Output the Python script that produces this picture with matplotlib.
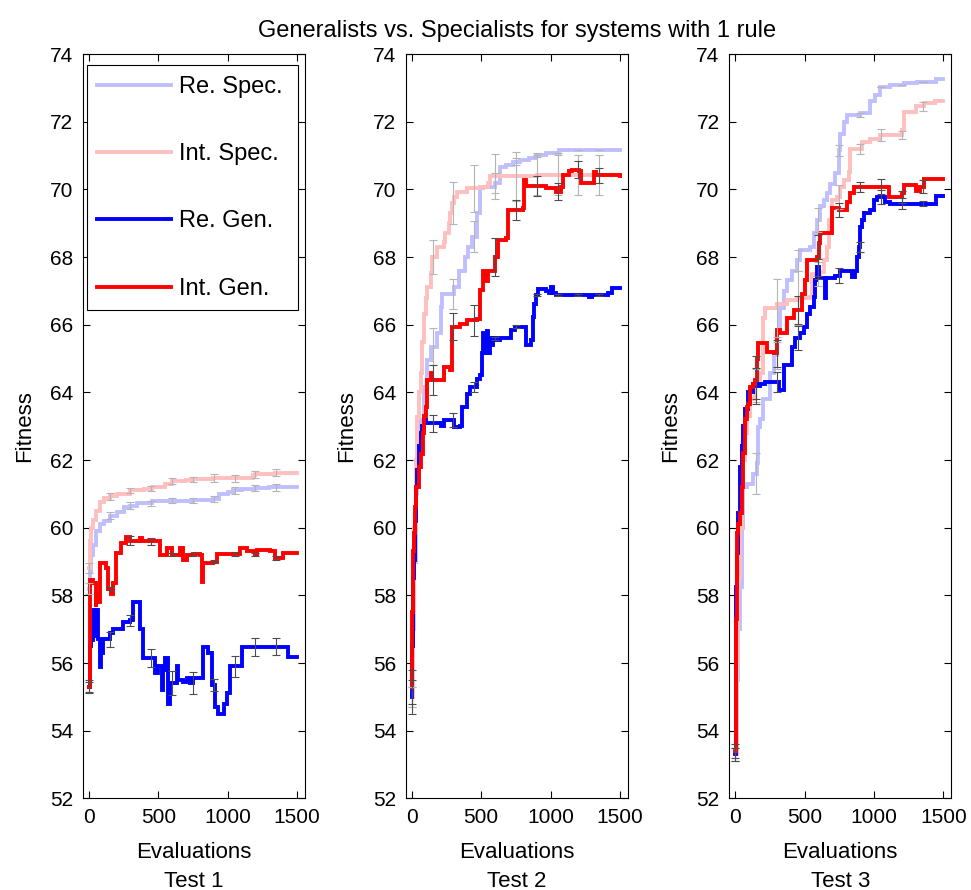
import matplotlib
matplotlib.use("Agg")
import matplotlib.pyplot as plt
import numpy as np

plt.rcParams["font.family"] = ["Liberation Sans", "DejaVu Sans"]

# error bars are drawn every 150 evaluations
err_x = [0, 150, 300, 450, 600, 750, 900, 1050, 1200, 1350]

# ---- Test 1 ----
t1_re_spec_x = [0, 5, 15, 30, 55, 80, 110, 150, 200, 250, 296, 350, 452, 596, 751, 895, 940, 1000, 1040, 1100, 1197, 1300, 1500]
t1_re_spec_y = [58.2, 58.7, 59.2, 59.5, 59.9, 60.1, 60.2, 60.35, 60.45, 60.6, 60.65, 60.72, 60.78, 60.8, 60.82, 60.85, 61.0, 61.05, 61.1, 61.15, 61.17, 61.19, 61.19]
t1_int_spec_x = [0, 5, 15, 30, 50, 80, 110, 150, 200, 296, 400, 452, 550, 596, 700, 751, 895, 1040, 1180, 1197, 1340, 1500]
t1_int_spec_y = [58.8, 59.6, 60.0, 60.22, 60.5, 60.75, 60.87, 60.93, 61.0, 61.1, 61.15, 61.2, 61.3, 61.38, 61.42, 61.43, 61.46, 61.46, 61.55, 61.58, 61.62, 61.62]
t1_re_gen_x = [0, 7, 19, 31, 43, 55, 67, 79, 91, 103, 151, 175, 248, 296, 320, 368, 392, 476, 500, 524, 536, 548, 572, 584, 632, 644, 680, 704, 728, 752, 824, 860, 884, 908, 932, 975, 993, 1017, 1101, 1425, 1437, 1500]
t1_re_gen_y = [55.3, 56.5, 56.67, 57.56, 56.8, 57.56, 56.7, 55.88, 56.3, 56.7, 56.9, 57.0, 57.21, 57.26, 57.81, 57.0, 56.15, 55.7, 55.9, 55.2, 55.8, 56.15, 54.8, 55.4, 55.9, 55.5, 55.45, 55.55, 55.4, 55.55, 56.48, 56.3, 55.35, 54.7, 54.5, 54.8, 55.1, 55.9, 56.48, 56.48, 56.18, 56.18]
t1_int_gen_x = [0, 7, 31, 50, 55, 65, 79, 115, 127, 139, 163, 175, 199, 235, 271, 296, 368, 380, 452, 512, 560, 596, 656, 680, 704, 752, 800, 812, 824, 896, 920, 1040, 1089, 1137, 1197, 1209, 1305, 1341, 1401, 1500]
t1_int_gen_y = [55.3, 58.45, 58.35, 57.66, 58.05, 57.8, 58.95, 58.95, 58.8, 58.2, 58.05, 58.35, 59.24, 59.54, 59.73, 59.62, 59.68, 59.6, 59.6, 59.2, 59.4, 59.2, 59.4, 59.05, 59.2, 59.22, 59.2, 58.4, 58.95, 59.0, 59.22, 59.22, 59.4, 59.3, 59.2, 59.35, 59.3, 59.1, 59.25, 59.25]
t1_re_spec_err = [0.15, 0.1, 0.1, 0.08, 0.08, 0.08, 0.08, 0.1, 0.1, 0.1]
t1_int_spec_err = [0.15, 0.1, 0.08, 0.08, 0.08, 0.08, 0.12, 0.1, 0.1, 0.1]
t1_re_gen_err = [0.2, 0.22, 0.17, 0.27, 0.35, 0.33, 0.17, 0.3, 0.27, 0.25]
t1_int_gen_err = [0.15, 0.05, 0.12, 0.1, 0.05, 0.05, 0.05, 0.05, 0.05, 0.05]

# ---- Test 2 ----
t2_re_spec_x = [0, 8, 16, 28, 40, 52, 64, 88, 112, 140, 183, 207, 220, 301, 337, 385, 408, 432, 468, 491, 515, 598, 634, 682, 730, 776, 848, 895, 966, 1061, 1500]
t2_re_spec_y = [55.0, 57.0, 59.0, 61.0, 62.0, 62.6, 63.18, 64.16, 64.95, 65.35, 65.75, 66.53, 66.9, 67.12, 67.6, 68.0, 68.3, 68.6, 69.3, 70.03, 70.08, 70.18, 70.67, 70.72, 70.82, 70.87, 70.92, 71.01, 71.06, 71.16, 71.16]
t2_int_spec_x = [0, 8, 16, 28, 40, 52, 64, 76, 88, 100, 112, 135, 145, 183, 230, 242, 266, 278, 290, 301, 325, 397, 491, 551, 563, 900, 1500]
t2_int_spec_y = [55.0, 57.5, 60.0, 62.0, 63.28, 64.0, 64.56, 65.5, 66.33, 66.8, 67.12, 67.52, 68.0, 68.3, 68.45, 68.7, 69.0, 69.29, 69.6, 69.78, 69.93, 70.03, 70.08, 70.18, 70.38, 70.42, 70.42]
t2_re_gen_x = [0, 3, 6, 12, 16, 22, 28, 40, 52, 64, 76, 88, 100, 207, 230, 301, 349, 361, 397, 420, 468, 491, 503, 515, 527, 539, 551, 563, 575, 586, 610, 634, 717, 741, 812, 824, 860, 871, 883, 895, 907, 966, 990, 1002, 1014, 1038, 1275, 1298, 1417, 1441, 1500]
t2_re_gen_y = [55.0, 56.5, 57.3, 58.5, 59.04, 60.2, 61.2, 61.7, 62.4, 62.8, 63.0, 63.18, 63.08, 63.0, 63.18, 62.98, 63.0, 63.57, 63.95, 64.16, 64.4, 64.51, 65.16, 65.75, 65.16, 65.8, 65.16, 65.6, 65.4, 65.6, 65.55, 65.6, 65.84, 65.94, 65.94, 65.4, 65.54, 66.23, 66.6, 66.88, 67.05, 67.0, 66.93, 67.1, 66.93, 66.88, 66.83, 66.88, 66.93, 67.07, 67.07]
t2_int_gen_x = [0, 3, 6, 16, 24, 28, 52, 64, 80, 88, 100, 112, 135, 147, 207, 230, 278, 290, 350, 397, 468, 491, 515, 530, 550, 586, 598, 610, 622, 682, 693, 800, 812, 820, 907, 966, 1040, 1075, 1090, 1109, 1135, 1156, 1204, 1216, 1298, 1315, 1330, 1500]
t2_int_gen_y = [55.3, 57.5, 59.3, 59.83, 60.6, 61.2, 61.8, 62.19, 62.8, 63.3, 63.57, 64.36, 64.56, 64.36, 64.36, 64.76, 64.66, 65.94, 66.03, 66.13, 66.18, 67.02, 67.6, 67.3, 67.6, 67.6, 68.0, 68.0, 68.5, 68.55, 69.39, 69.44, 70.27, 70.1, 70.1, 70.03, 69.93, 70.08, 70.42, 70.42, 70.55, 70.58, 70.53, 70.2, 70.2, 70.5, 70.42, 70.4]
t2_re_spec_err = [0.3, 0.55, 0.45, 0.45, 0.3, 0.1, 0.05, 0.0, 0.0, 0.0]
t2_int_spec_err = [0.3, 0.5, 0.62, 0.7, 0.67, 0.72, 0.6, 0.6, 0.6, 0.6]
t2_re_gen_err = [0.5, 0.25, 0.2, 0.15, 0.05, 0.05, 0.02, 0.02, 0.02, 0.02]
t2_int_gen_err = [0.5, 0.45, 0.4, 0.45, 0.55, 0.3, 0.3, 0.25, 0.25, 0.22]

# ---- Test 3 ----
t3_re_spec_x = [0, 12, 24, 36, 48, 60, 84, 132, 157, 168, 181, 204, 253, 277, 301, 325, 349, 373, 409, 445, 469, 542, 565, 590, 614, 638, 662, 686, 722, 746, 758, 782, 806, 903, 975, 1011, 1047, 1119, 1215, 1311, 1444, 1500]
t3_re_spec_y = [53.3, 55.5, 57.0, 58.25, 60.0, 61.2, 61.3, 61.6, 61.9, 62.97, 63.2, 63.8, 64.56, 65.1, 65.75, 66.5, 67.0, 67.32, 67.6, 67.9, 68.2, 68.3, 68.7, 69.09, 69.5, 69.7, 69.9, 70.15, 70.47, 71.15, 71.65, 72.0, 72.2, 72.25, 72.6, 72.8, 73.03, 73.08, 73.15, 73.18, 73.25, 73.25]
t3_int_spec_x = [0, 12, 24, 36, 48, 60, 72, 84, 108, 144, 181, 199, 217, 301, 373, 445, 542, 554, 614, 638, 662, 674, 698, 734, 758, 782, 818, 830, 915, 975, 1047, 1204, 1215, 1300, 1360, 1440, 1500]
t3_int_spec_y = [53.3, 56.0, 58.5, 60.0, 61.2, 62.0, 62.8, 63.3, 63.8, 64.2, 64.56, 66.2, 66.5, 66.6, 66.73, 66.8, 66.82, 67.5, 67.55, 67.9, 68.3, 69.08, 69.7, 69.78, 70.08, 70.27, 70.5, 71.2, 71.4, 71.5, 71.6, 71.75, 72.3, 72.45, 72.55, 72.62, 72.62]
t3_re_gen_x = [0, 4, 12, 24, 36, 48, 60, 72, 96, 132, 157, 181, 217, 313, 349, 409, 433, 469, 493, 518, 542, 565, 578, 590, 602, 650, 656, 722, 758, 843, 866, 878, 890, 903, 915, 926, 975, 999, 1023, 1083, 1119, 1444, 1500]
t3_re_gen_y = [53.3, 58.25, 59.24, 60.42, 61.8, 62.4, 63.0, 63.5, 64.0, 64.26, 64.2, 64.26, 64.3, 64.06, 64.8, 65.35, 65.6, 65.74, 65.94, 66.33, 66.53, 66.82, 67.32, 67.7, 67.37, 66.8, 67.37, 67.45, 67.6, 67.42, 67.6, 68.0, 68.3, 68.9, 69.09, 69.3, 69.39, 69.68, 69.78, 69.63, 69.58, 69.8, 69.8]
t3_int_gen_x = [0, 4, 12, 24, 36, 48, 60, 72, 84, 96, 108, 132, 144, 157, 168, 229, 277, 301, 325, 373, 421, 482, 505, 518, 590, 602, 614, 698, 746, 806, 830, 854, 1107, 1204, 1215, 1300, 1330, 1360, 1500]
t3_int_gen_y = [53.4, 57.3, 59.83, 60.1, 60.42, 61.2, 62.2, 63.2, 63.57, 63.67, 64.16, 64.26, 64.36, 65.0, 65.45, 65.2, 65.16, 65.84, 65.74, 66.19, 66.43, 66.9, 67.32, 67.9, 68.0, 68.4, 68.7, 69.44, 69.39, 69.63, 69.88, 70.08, 69.78, 69.88, 70.13, 69.95, 70.08, 70.3, 70.3]
t3_re_spec_err = [0.2, 0.6, 0.4, 0.3, 0.35, 0.15, 0.05, 0.0, 0.0, 0.0]
t3_int_spec_err = [0.2, 0.5, 0.85, 0.8, 0.35, 0.35, 0.15, 0.17, 0.12, 0.12]
t3_re_gen_err = [0.2, 0.45, 0.3, 0.35, 0.25, 0.22, 0.15, 0.2, 0.15, 0.07]
t3_int_gen_err = [0.2, 0.7, 0.4, 0.42, 0.65, 0.22, 0.15, 0.22, 0.17, 0.2]

labels = ["Re. Spec.", "Int. Spec.", "Re. Gen.", "Int. Gen."]
colors = ["#bfbfff", "#ffbfbf", "#0000ff", "#ff0000"]
err_colors = ["#b4b4b4", "#b4b4b4", "#4d4d4d", "#4d4d4d"]

tests = [
    ("Test 1", [(t1_re_spec_x, t1_re_spec_y, t1_re_spec_err),
                (t1_int_spec_x, t1_int_spec_y, t1_int_spec_err),
                (t1_re_gen_x, t1_re_gen_y, t1_re_gen_err),
                (t1_int_gen_x, t1_int_gen_y, t1_int_gen_err)]),
    ("Test 2", [(t2_re_spec_x, t2_re_spec_y, t2_re_spec_err),
                (t2_int_spec_x, t2_int_spec_y, t2_int_spec_err),
                (t2_re_gen_x, t2_re_gen_y, t2_re_gen_err),
                (t2_int_gen_x, t2_int_gen_y, t2_int_gen_err)]),
    ("Test 3", [(t3_re_spec_x, t3_re_spec_y, t3_re_spec_err),
                (t3_int_spec_x, t3_int_spec_y, t3_int_spec_err),
                (t3_re_gen_x, t3_re_gen_y, t3_re_gen_err),
                (t3_int_gen_x, t3_int_gen_y, t3_int_gen_err)]),
]


def step_value(xs, ys, at):
    """Value of a steps-post curve at the given x positions."""
    idx = np.searchsorted(np.asarray(xs), np.asarray(at), side="right") - 1
    return np.asarray(ys)[np.clip(idx, 0, len(ys) - 1)]


fig = plt.figure(figsize=(9.71, 8.9), dpi=100)
lefts = [0.0855, 0.4181, 0.7511]
axes = []
for left, (name, series) in zip(lefts, tests):
    ax = fig.add_axes([left, 0.1030, 0.2284, 0.8363])
    for (xs, ys, err), color, label in zip(series, colors, labels):
        ax.plot(xs, ys, drawstyle="steps-post", color=color, linewidth=2.8,
                label=label, zorder=2, solid_joinstyle="miter")
    for (xs, ys, err), ecolor in zip(series, err_colors):
        ax.errorbar(err_x, step_value(xs, ys, err_x), yerr=err, fmt="none",
                    ecolor=ecolor, elinewidth=0.8, capsize=3, capthick=0.8,
                    zorder=3)
    ax.set_xlim(-42, 1556)
    ax.set_ylim(52, 74)
    ax.set_xticks([0, 500, 1000, 1500])
    ax.set_yticks(np.arange(52, 75, 2))
    ax.tick_params(direction="in", top=True, right=True, length=5,
                   width=0.8, labelsize=15, pad=7)
    for sp in ax.spines.values():
        sp.set_linewidth(0.8)
    ax.set_xlabel("Evaluations\n" + name, fontsize=16, linespacing=1.45,
                  labelpad=11)
    ax.set_ylabel("Fitness", fontsize=16, labelpad=11)
    axes.append(ax)

axes[1].set_title("Generalists vs. Specialists for systems with 1 rule",
                  fontsize=17, pad=12)

leg = axes[0].legend(loc="upper left", bbox_to_anchor=(0.0167, 0.985, 0.951, 0.0),
                     mode="expand", fontsize=17, handlelength=3.1,
                     handletextpad=0.36, labelspacing=1.92, borderpad=0.45,
                     borderaxespad=0.0, fancybox=False, framealpha=1.0,
                     edgecolor="black")
leg.get_frame().set_linewidth(0.8)

fig.savefig("out.png", dpi=100)
